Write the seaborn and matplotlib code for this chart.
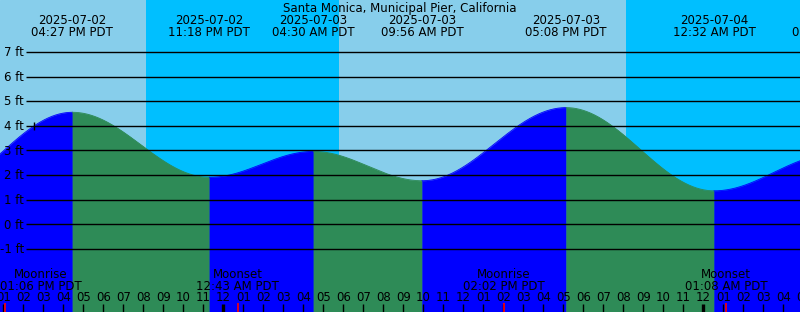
import numpy as np
import pandas as pd
import matplotlib
matplotlib.use("Agg")
import matplotlib.pyplot as plt
import matplotlib.transforms as mtransforms
import seaborn as sns

# ---------------- data ----------------
TITLE = "Santa Monica, Municipal Pier, California"
tide_times = ["2025-07-02 09:15", "2025-07-02 16:27", "2025-07-02 23:18",
              "2025-07-03 04:30", "2025-07-03 09:56", "2025-07-03 17:08",
              "2025-07-04 00:32", "2025-07-04 06:30"]
tide_heights = [1.2, 4.55, 1.91, 2.96, 1.77, 4.74, 1.36, 2.85]

night_starts = ["2025-07-02 20:08", "2025-07-03 20:08"]
night_ends = ["2025-07-03 05:47", "2025-07-04 05:47"]

moon_times = ["2025-07-02 13:06", "2025-07-03 00:43",
              "2025-07-03 14:02", "2025-07-04 01:08"]
moon_kinds = ["Moonrise", "Moonset", "Moonrise", "Moonset"]

now_time = "2025-07-02 14:32"
now_height = 4.0

feet_levels = [-1, 0, 1, 2, 3, 4, 5, 6, 7]
hour_start, hour_end = "2025-07-02 13:00", "2025-07-04 05:00"

# ---------------- layout ----------------
W, H = 800, 312
REF = pd.Timestamp("2025-07-03 00:00")
X0_PX = 223.4        # pixel of reference midnight
PX_PER_H = 20.0
Y0_PX = 224.3        # pixel of 0 ft
PX_PER_FT = 24.625

DAY = "#87CEEB"
NIGHT = "#00BFFF"
RISE = "#0000FF"
FALL = "#2E8B57"
FS = 8.5

def hrs(ts):
    return (pd.Timestamp(ts) - REF) / pd.Timedelta(hours=1)

def px2h(px):
    return (px - X0_PX) / PX_PER_H

fig = plt.figure(figsize=(W / 100, H / 100), dpi=100)
ax = fig.add_axes([0, 0, 1, 1])
ax.set_xlim(px2h(0), px2h(W))
ax.set_ylim((Y0_PX - H) / PX_PER_FT, Y0_PX / PX_PER_FT)
ax.set_axis_off()
ax.add_patch(plt.Rectangle((0, 0), 1, 1, transform=ax.transAxes,
                           color=DAY, zorder=0))

ypix = mtransforms.Affine2D().scale(1, -1).translate(0, H)
blend = mtransforms.blended_transform_factory(ax.transData, ypix)
pixel = mtransforms.blended_transform_factory(mtransforms.IdentityTransform(), ypix)

# night shading
for s, e in zip(night_starts, night_ends):
    ax.axvspan(hrs(s), hrs(e), color=NIGHT, lw=0, zorder=0.5)

# tide curve between extremes
ybot = ax.get_ylim()[0]
th = [hrs(t) for t in tide_times]
for i in range(len(th) - 1):
    t0, t1 = th[i], th[i + 1]
    h0, h1 = tide_heights[i], tide_heights[i + 1]
    tt = np.linspace(t0, t1, 300)
    hh = h0 + (h1 - h0) * (1 - np.cos(np.pi * (tt - t0) / (t1 - t0))) / 2
    col = RISE if h1 > h0 else FALL
    ax.fill_between(tt, ybot, hh, color=col, lw=0.3, edgecolor=col, zorder=1)
    sns.lineplot(x=tt, y=hh, color=col, lw=0.6, ax=ax, legend=False, zorder=1.1)

# grid lines and feet labels
ax.hlines(feet_levels, px2h(26), px2h(W), colors="black", lw=1.0, zorder=2)
for f in feet_levels:
    ypx = Y0_PX - f * PX_PER_FT
    ax.text(24, ypx + 4.3, f"{f} ft", ha="right", va="baseline", fontsize=FS,
            color="black", transform=pixel, zorder=3)

# now marker
nowpx = Y0_PX - now_height * PX_PER_FT
ax.vlines([hrs(now_time)], nowpx - 4, nowpx + 4.5, colors="black", lw=1.0,
          transform=blend, zorder=3)

# title and tide labels
xmin, xmax = ax.get_xlim()
fig.text(0.5, 1 - 11.7 / H, TITLE, ha="center", va="baseline", fontsize=FS)
for t in tide_times:
    ts = pd.Timestamp(t)
    x = hrs(t)
    if x < xmin - 2 or x > xmax + 2:
        continue
    ax.text(x, 24, ts.strftime("%Y-%m-%d"), ha="center", va="baseline",
            fontsize=FS, transform=blend, zorder=3)
    ax.text(x, 36, ts.strftime("%I:%M %p PDT"), ha="center", va="baseline",
            fontsize=FS, transform=blend, zorder=3)

# hour ticks and labels
hours = pd.date_range(hour_start, hour_end, freq="h")
for ts in hours:
    x = hrs(ts)
    midnight = ts.hour == 0
    ax.vlines([x], 304 if midnight else 303.5, H, colors="black",
              lw=2.4 if midnight else 1.0, transform=blend, zorder=3)
    ax.text(x, 300.7, ts.strftime("%I"), ha="center", va="baseline",
            fontsize=FS, transform=blend, zorder=3)

# moon events
pairs = []
for t, kind in zip(moon_times, moon_kinds):
    x = hrs(t)
    ax.vlines([x], 303, H, colors="red", lw=1.2, transform=blend, zorder=3.5)
    a = ax.text(x, 278, kind, ha="center", va="baseline", fontsize=FS,
                transform=blend, zorder=3)
    b = ax.text(x, 290, pd.Timestamp(t).strftime("%I:%M %p PDT"), ha="center",
                va="baseline", fontsize=FS, transform=blend, zorder=3)
    pairs.append((a, b))

fig.canvas.draw()
r = fig.canvas.get_renderer()
for pair in pairs:
    left = min(tx.get_window_extent(r).x0 for tx in pair)
    if left < 0:
        for tx in pair:
            tx.set_transform(tx.get_transform() +
                             mtransforms.Affine2D().translate(-left, 0))

fig.savefig("out.png", dpi=100)
